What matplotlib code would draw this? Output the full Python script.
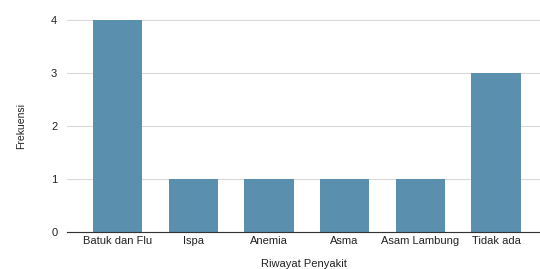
import matplotlib
matplotlib.use("Agg")
import matplotlib.pyplot as plt

categories = ["Batuk dan Flu", "Ispa", "Anemia", "Asma", "Asam Lambung", "Tidak ada"]
frekuensi = [4, 1, 1, 1, 1, 3]
y_ticks = [0, 1, 2, 3, 4]

plt.rcParams["font.family"] = ["Liberation Sans", "DejaVu Sans"]

fig = plt.figure(figsize=(5.40, 2.69), dpi=100)
ax = fig.add_axes([67 / 540, 37 / 269, (540 - 67) / 540, 212 / 269])

x = range(len(categories))
ax.bar(x, frekuensi, width=0.65, color="#5a8fae", zorder=3)

ax.set_xlim(-0.667, 5.58)
ax.set_ylim(0, 4)
ax.set_yticks(y_ticks)
ax.set_xticks(list(x))
ax.set_xticklabels(categories)
ax.tick_params(axis="both", length=0, labelsize=8, colors="#222222")
ax.tick_params(axis="x", pad=3)
ax.tick_params(axis="y", pad=7)

ax.grid(axis="y", color="#d9d9d9", linewidth=0.8, zorder=0, clip_on=False)
for s in ["top", "right", "left"]:
    ax.spines[s].set_visible(False)
ax.spines["bottom"].set_color("#333333")
ax.spines["bottom"].set_linewidth(0.8)
ax.spines["bottom"].set_zorder(4)

ax.set_xlabel("Riwayat Penyakit", fontsize=8, color="#222222", labelpad=9)
ax.set_ylabel("Frekuensi", fontsize=7.5, color="#222222", labelpad=18)

fig.savefig("out.png", dpi=100)
